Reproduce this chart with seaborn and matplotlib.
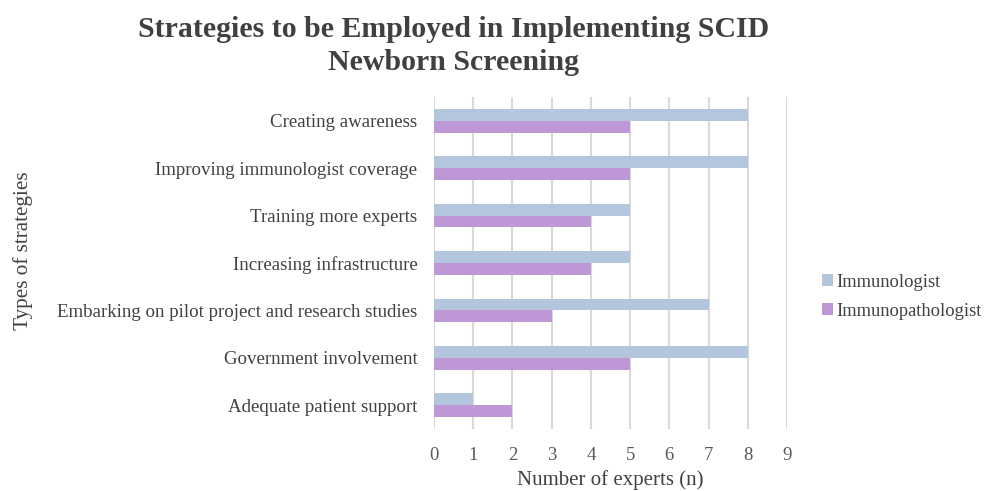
import matplotlib
matplotlib.use("Agg")
import matplotlib.pyplot as plt
import seaborn as sns
import pandas as pd

categories = [
    "Creating awareness",
    "Improving immunologist coverage",
    "Training more experts",
    "Increasing infrastructure",
    "Embarking on pilot project and research studies",
    "Government involvement",
    "Adequate patient support",
]
immunologist = [8, 8, 5, 5, 7, 8, 1]
immunopathologist = [5, 5, 4, 4, 3, 5, 2]
series_names = ["Immunologist", "Immunopathologist"]
xticks = list(range(0, 10))

df = pd.DataFrame({
    "Strategy": categories * 2,
    "Count": immunologist + immunopathologist,
    "Group": [series_names[0]] * len(categories) + [series_names[1]] * len(categories),
})

sns.set_theme(style="white")
plt.rcParams["font.family"] = ["Liberation Serif", "DejaVu Serif"]

fig = plt.figure(figsize=(9.89, 4.91), dpi=100)
ax = fig.add_axes([0.4388, 0.1263, 0.3570, 0.6761])

palette = {"Immunologist": "#B3C6DE", "Immunopathologist": "#BE98D6"}
sns.barplot(data=df, y="Strategy", x="Count", hue="Group", order=categories,
            hue_order=series_names, palette=palette, orient="h", width=0.5,
            saturation=1, linewidth=0, ax=ax, legend=True)

ax.set_xlim(0, 9)
ax.set_xticks(xticks)
ax.set_xticklabels([str(t) for t in xticks], fontsize=13.5, color="#595959")
ax.tick_params(axis="y", labelsize=13.6, labelcolor="#404040", length=0, pad=12)
ax.tick_params(axis="x", length=0, pad=13)
ax.xaxis.grid(True, color="#D9D9D9", linewidth=1.5)
ax.set_axisbelow(True)
for s in ax.spines.values():
    s.set_visible(False)

ax.set_xlabel("Number of experts (n)", fontsize=15, color="#404040", labelpad=4.5)
ax.set_ylabel("Types of strategies", fontsize=15.2, color="#404040")
ax.yaxis.set_label_coords(-1.136, 0.536)

leg = ax.legend(loc="center left", bbox_to_anchor=(1.052, 0.399), frameon=False,
                fontsize=13.3, handlelength=0.6, handleheight=0.6,
                handletextpad=0.15, labelspacing=0.65, labelcolor="#404040")

fig.text(0.459, 0.968, "Strategies to be Employed in Implementing SCID\nNewborn Screening",
         ha="center", va="top", fontsize=21.5, fontweight="bold", color="#404040",
         linespacing=1.3)

fig.savefig("out.png", dpi=100, facecolor="white")
